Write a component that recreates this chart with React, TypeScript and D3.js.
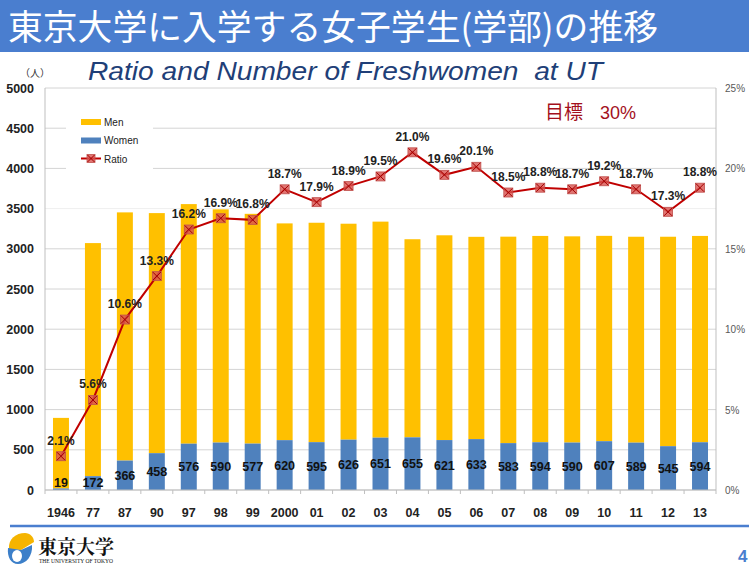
import React from "react";
import * as d3 from "d3";

const categories = ["1946", "77", "87", "90", "97", "98", "99", "2000", "01", "02", "03", "04", "05", "06", "07", "08", "09", "10", "11", "12", "13"];
const women = [19, 172, 366, 458, 576, 590, 577, 620, 595, 626, 651, 655, 621, 633, 583, 594, 590, 607, 589, 545, 594];
const men = [878, 2899, 3087, 2986, 2980, 2901, 2858, 2696, 2729, 2686, 2687, 2464, 2547, 2516, 2568, 2566, 2565, 2554, 2561, 2605, 2566];
const ratio = [2.1, 5.6, 10.6, 13.3, 16.2, 16.9, 16.8, 18.7, 17.9, 18.9, 19.5, 21.0, 19.6, 20.1, 18.5, 18.8, 18.7, 19.2, 18.7, 17.3, 18.8];
const leftTicks = [0, 500, 1000, 1500, 2000, 2500, 3000, 3500, 4000, 4500, 5000];
const rightTicks = [0, 5, 10, 15, 20, 25];

const W = 749;
const H = 566;
const L = 45, R = 716, T = 88, B = 490;
const BLUE = "#4a7ecf";
const MEN = "#FFC000";
const WOMEN = "#4F81BD";
const RED = "#C00000";
const LABEL_FONT = "'Liberation Sans', Arial, sans-serif";
const JP = "'Noto Sans CJK JP', 'Noto Sans CJK SC', sans-serif";

export default function App() {
  const x = d3.scaleBand<string>().domain(categories).range([L, R]).paddingInner(0.5).paddingOuter(0.25);
  const y = d3.scaleLinear().domain([0, 5000]).range([B, T]);
  const y2 = d3.scaleLinear().domain([0, 25]).range([B, T]);
  const bw = x.bandwidth();
  const cx = (c: string) => (x(c) as number) + bw / 2;
  const line = d3.line<number>().x((_, i) => cx(categories[i])).y((d) => y2(d));
  const step = x.step();

  return (
    <svg width={W} height={H} style={{ position: "absolute", left: 0, top: 0, background: "#fff" }}>
      {/* Banner */}
      <rect x={0} y={0} width={W} height={52} fill={BLUE} />
      <text x={8} y={40} fill="#fff" fontFamily={JP} fontSize={35} textLength={650} lengthAdjust="spacingAndGlyphs">
        東京大学に入学する女子学生(学部)の推移
      </text>
      {/* Subtitle */}
      <text x={88} y={80} fill="#1f3f78" fontFamily={LABEL_FONT} fontStyle="italic" fontSize={26} textLength={515} lengthAdjust="spacingAndGlyphs" style={{ whiteSpace: "pre" }}>
        {"Ratio and Number of Freshwomen  at UT"}
      </text>
      <text x={20} y={77} fontFamily={JP} fontSize={10} fill="#333">（人）</text>

      {/* gridlines */}
      {leftTicks.map((t) => (
        <line key={"g" + t} x1={L} x2={R} y1={y(t)} y2={y(t)} stroke={t === 3500 ? "#efefef" : "#d4d4d4"} strokeWidth={1} />
      ))}
      <line x1={L} x2={L} y1={T} y2={B} stroke="#bfbfbf" />
      <line x1={R} x2={R} y1={T} y2={B} stroke="#bfbfbf" />

      {/* bars */}
      {categories.map((c, i) => (
        <g key={"b" + c}>
          <rect x={x(c)} y={y(women[i] + men[i])} width={bw} height={y(women[i]) - y(women[i] + men[i])} fill={MEN} />
          <rect x={x(c)} y={y(women[i])} width={bw} height={B - y(women[i])} fill={WOMEN} />
        </g>
      ))}

      {/* x axis */}
      <line x1={L} x2={R} y1={B} y2={B} stroke="#bfbfbf" />
      {categories.map((c, i) => (
        <line key={"t" + c} x1={L + step * i} x2={L + step * i} y1={B} y2={B + 4} stroke="#bfbfbf" />
      ))}
      <line x1={R} x2={R} y1={B} y2={B + 4} stroke="#bfbfbf" />
      {categories.map((c) => (
        <text key={"xl" + c} x={cx(c)} y={517} textAnchor="middle" fontFamily={LABEL_FONT} fontWeight="bold" fontSize={12.5} fill="#222">
          {c}
        </text>
      ))}

      {/* left ticks */}
      {leftTicks.map((t) => (
        <text key={"lt" + t} x={34} y={y(t) + 4.5} textAnchor="end" fontFamily={LABEL_FONT} fontWeight="bold" fontSize={12.5} fill="#222">
          {t}
        </text>
      ))}
      {/* right ticks */}
      {rightTicks.map((t) => (
        <text key={"rt" + t} x={725} y={y2(t) + 4} fontFamily={LABEL_FONT} fontSize={10} fill="#595959">
          {t}%
        </text>
      ))}

      {/* women labels */}
      {categories.map((c, i) => (
        <text key={"wl" + c} x={cx(c)} y={Math.min((y(women[i]) + B) / 2, 482) + 4.5} textAnchor="middle" fontFamily={LABEL_FONT} fontWeight="bold" fontSize={12.5} fill="#111">
          {women[i]}
        </text>
      ))}

      {/* ratio line */}
      <path d={line(ratio) as string} fill="none" stroke={RED} strokeWidth={2} />
      {ratio.map((r, i) => {
        const px = cx(categories[i]);
        const py = y2(r);
        return (
          <g key={"m" + i}>
            <rect x={px - 4.5} y={py - 4.5} width={9} height={9} fill="#d9534f" fillOpacity={0.8} stroke="#c0504d" strokeWidth={0.8} />
            <path d={`M${px - 4},${py - 4}L${px + 4},${py + 4}M${px - 4},${py + 4}L${px + 4},${py - 4}`} stroke="#a00000" strokeWidth={1} />
          </g>
        );
      })}
      {ratio.map((r, i) => (
        <text key={"rl" + i} x={cx(categories[i])} y={y2(r) - 11.5} textAnchor="middle" fontFamily={LABEL_FONT} fontWeight="bold" fontSize={12} fill="#222">
          {r.toFixed(1)}%
        </text>
      ))}

      {/* legend */}
      <rect x={66} y={108} width={87} height={62} fill="#fff" />
      <rect x={81} y={119} width={20} height={6} fill={MEN} />
      <text x={104} y={125.5} fontFamily={LABEL_FONT} fontSize={10} fill="#222">Men</text>
      <rect x={81} y={137.5} width={20} height={6} fill={WOMEN} />
      <text x={104} y={144} fontFamily={LABEL_FONT} fontSize={10} fill="#222">Women</text>
      <line x1={81} x2={101} y1={158.5} y2={158.5} stroke={RED} strokeWidth={2} />
      <rect x={87} y={154.5} width={8} height={8} fill="#d9534f" fillOpacity={0.8} stroke="#c0504d" strokeWidth={0.8} />
      <path d="M87.5,155L94.5,162M87.5,162L94.5,155" stroke="#a00000" strokeWidth={1} />
      <text x={104} y={162.5} fontFamily={LABEL_FONT} fontSize={10} fill="#222">Ratio</text>

      {/* target */}
      <text x={545} y={119} fontFamily={JP} fontSize={19} fill="#a3101c">目標</text>
      <text x={600} y={119} fontFamily={LABEL_FONT} fontSize={18} fill="#a3101c">30%</text>

      {/* footer */}
      <line x1={10} x2={W} y1={526} y2={526} stroke={BLUE} strokeWidth={2.5} />
      <path d="M9,549 C8,539 16,533 25,533 C30,533 34,537 34,542 L21,550 Z" fill="#f5b400" />
      <path d="M8,548 L21,550 L32,545 C33,556 26,564 18,564 C11,564 7,557 8,548 Z" fill="#3c7fc9" />
      <ellipse cx={17} cy={556} rx={5} ry={6} fill="#fff" />
      <text x={38} y={554} fontFamily="'Noto Serif CJK JP', 'Noto Sans CJK JP', serif" fontWeight="bold" fontSize={19} fill="#111" textLength={76} lengthAdjust="spacingAndGlyphs">東京大学</text>
      <text x={39} y={563} fontFamily="'Liberation Serif', serif" fontSize={5.5} fill="#111" textLength={74} lengthAdjust="spacingAndGlyphs">THE UNIVERSITY OF TOKYO</text>
      <text x={738} y={562} fontFamily={LABEL_FONT} fontWeight="bold" fontSize={17} fill={BLUE}>4</text>
    </svg>
  );
}
